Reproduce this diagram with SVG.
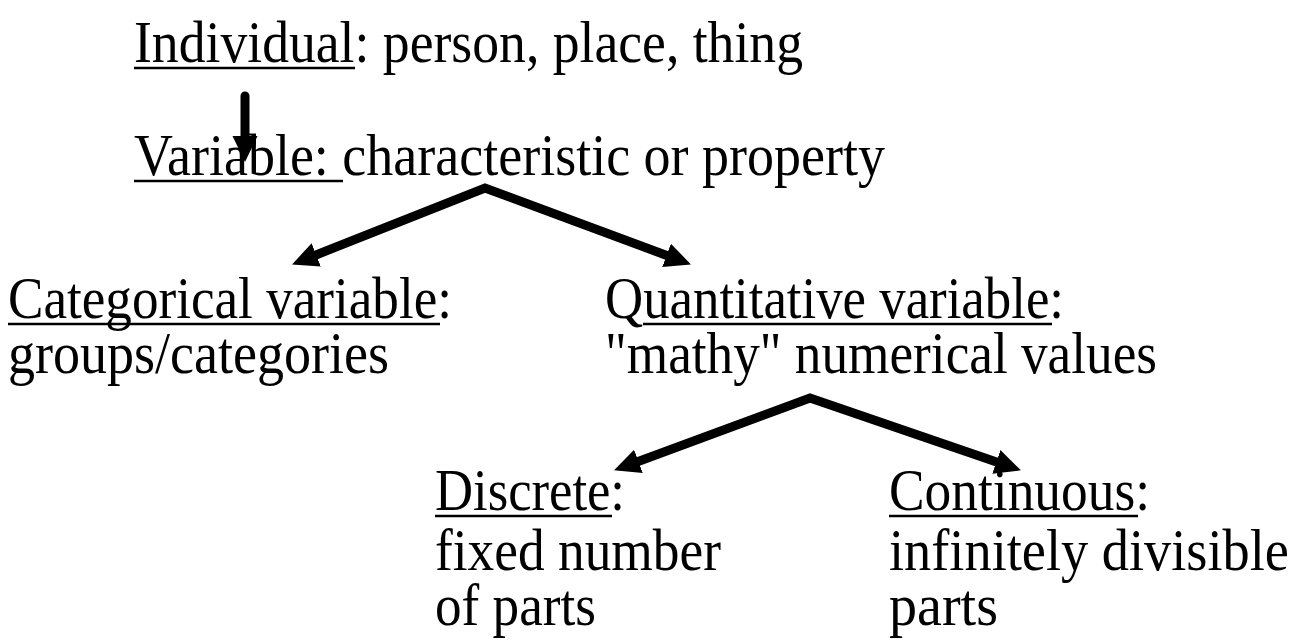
<svg xmlns="http://www.w3.org/2000/svg" width="1301" height="644" viewBox="0 0 1301 644">
<defs>
<marker id="ah" markerUnits="userSpaceOnUse" markerWidth="28" markerHeight="28" viewBox="0 -14 28 28" refX="1" refY="0" orient="auto-start-reverse">
<path d="M0,-12.5 L26,0 L0,12.5 Z" fill="#000"/>
</marker>
</defs>
<style>
text{font-family:"Liberation Serif","Times New Roman",serif;font-size:59px;fill:#000}
.u{stroke:#000;stroke-width:2.6}
.c{stroke:#000;stroke-width:9;fill:none;stroke-linejoin:miter}
</style>
<rect width="1301" height="644" fill="#fff"/>
<g id="individual">
<text x="134" y="62" textLength="669" lengthAdjust="spacingAndGlyphs">Individual: person, place, thing</text>
<line class="u" x1="134" y1="68" x2="355" y2="68"/>
</g>
<g id="variable">
<text x="134" y="175" textLength="751" lengthAdjust="spacingAndGlyphs">Variable: characteristic or property</text>
<line class="u" x1="134" y1="181" x2="343" y2="181"/>
</g>
<g id="categorical">
<text x="8" y="318" textLength="444" lengthAdjust="spacingAndGlyphs">Categorical variable:</text>
<line class="u" x1="8" y1="324" x2="440" y2="324"/>
<text x="8" y="373" textLength="381" lengthAdjust="spacingAndGlyphs">groups/categories</text>
</g>
<g id="quantitative">
<text x="605" y="318" textLength="459" lengthAdjust="spacingAndGlyphs">Quantitative variable:</text>
<line class="u" x1="643" y1="324" x2="1052" y2="324"/>
<text x="605" y="373" textLength="552" lengthAdjust="spacingAndGlyphs">"mathy" numerical values</text>
</g>
<g id="discrete">
<text x="435" y="510" textLength="190" lengthAdjust="spacingAndGlyphs">Discrete:</text>
<line class="u" x1="435" y1="516" x2="612" y2="516"/>
<text x="435" y="570" textLength="286" lengthAdjust="spacingAndGlyphs">fixed number</text>
<text x="435" y="625" textLength="161" lengthAdjust="spacingAndGlyphs">of parts</text>
</g>
<g id="continuous">
<text x="889" y="510" textLength="261" lengthAdjust="spacingAndGlyphs">Continuous:</text>
<line class="u" x1="889" y1="516" x2="1138" y2="516"/>
<text x="889" y="570" textLength="400" lengthAdjust="spacingAndGlyphs">infinitely divisible</text>
<text x="889" y="625" textLength="109" lengthAdjust="spacingAndGlyphs">parts</text>
</g>
<g id="connectors">
<line class="c" x1="245" y1="96" x2="245" y2="137" stroke-linecap="round" marker-end="url(#ah)"/>
<path class="c" d="M315.3,255.2 L485,188 L667.5,255.7" marker-start="url(#ah)" marker-end="url(#ah)"/>
<path class="c" d="M637.5,461.7 L810,398 L997.3,462.2" marker-start="url(#ah)" marker-end="url(#ah)"/>
</g>
</svg>
